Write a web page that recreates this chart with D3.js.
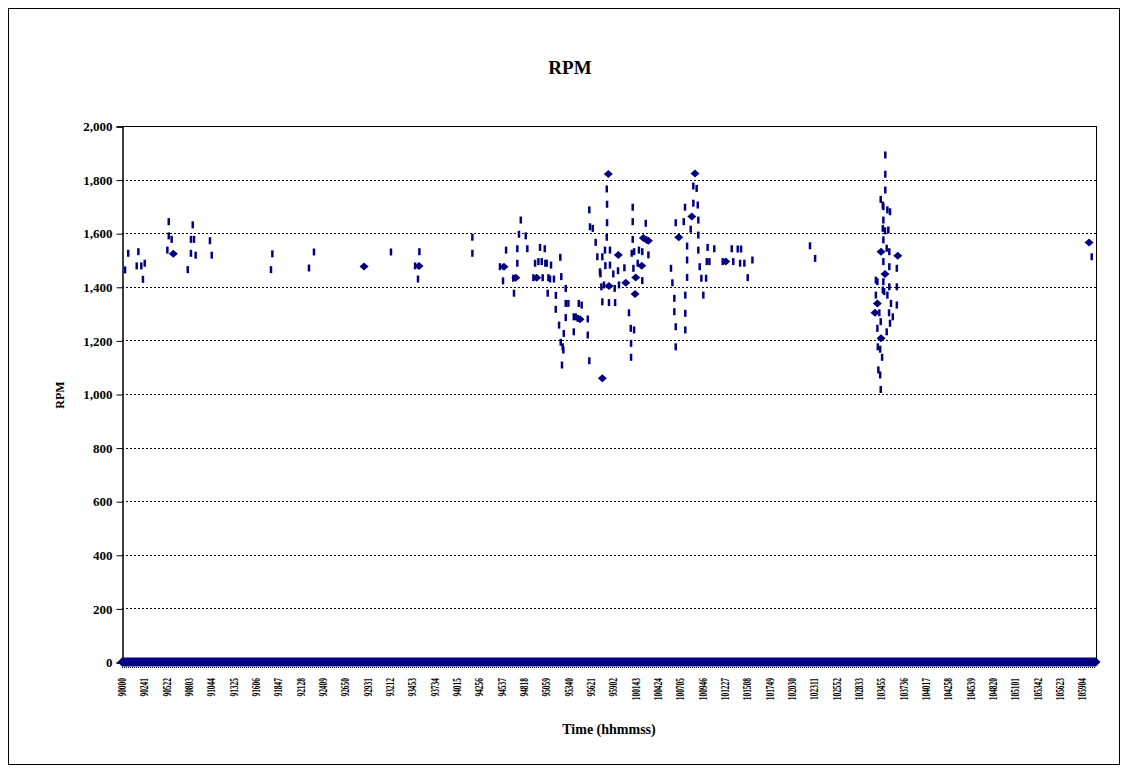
<!DOCTYPE html>
<html><head><meta charset="utf-8">
<script src="https://cdn.jsdelivr.net/npm/d3@7"></script>
<style>
html,body{margin:0;padding:0;background:#fff;}
svg{display:block;}
text{font-family:"Liberation Serif","Times New Roman",serif;font-weight:bold;fill:#000;}
</style></head>
<body>
<svg id="chart" width="1128" height="772"></svg>
<script>
// ---- DATA ----
const chartTitle = "RPM";
const xTitle = "Time (hhmmss)";
const yTitle = "RPM";
const timeLabels = ["90000","90241","90522","90803","91044","91325","91606","91847","92128","92409","92650","92931","93212","93453","93734","94015","94256","94537","94818","95059","95340","95621","95902","100143","100424","100705","100946","101227","101508","101749","102030","102311","102552","102833","103455","103736","104017","104258","104539","104820","105101","105342","105623","105904"];
const labelStep = 161;          // samples between time labels
const sampleCount = 7022;       // samples in the record
const yTicks = [0,200,400,600,800,1000,1200,1400,1600,1800,2000];
// samples reading zero RPM (sample index span)
const zeroSpan = [0, 7022];
// readings drawn with diamond markers [sample index, rpm]
const markerPoints = [
 [370,1523],[1745,1476],[2141,1478],[2754,1475],[2839,1434],[2990,1434],[3302,1279],[3463,1059],
 [3506,1821],[3511,1403],[3578,1519],[3632,1415],[3699,1373],[3704,1435],[3747,1479],[3759,1582],
 [3783,1575],[3795,1572],[4014,1585],[4108,1662],[4131,1823],[4353,1494],[5472,1531],[5593,1516],
 [5501,1448],[5446,1338],[5429,1303],[5472,1208],[6972,1565]
];
// readings drawn as short dashes [sample index, rpm]
const dashPoints = [
 [22,1463],[45,1525],[106,1478],[118,1531],[139,1478],[151,1428],[164,1488],[327,1537],[337,1643],
 [337,1590],[358,1577],[474,1464],[497,1525],[497,1577],[510,1631],[519,1577],[531,1518],[634,1572],
 [647,1518],[1074,1464],[1084,1523],[1348,1470],[1384,1530],[1939,1530],
 [2144,1531],[2113,1478],[2134,1429],[2526,1585],[2526,1525],[2725,1475],[2747,1422],
 [2769,1537],[2821,1432],[2826,1376],[2850,1488],[2850,1542],[2862,1596],[2875,1649],[2911,1590],
 [2922,1542],[2966,1434],[2978,1488],[3002,1494],[3026,1494],[3014,1547],[3048,1542],[3033,1434],
 [3052,1488],[3062,1488],[3074,1434],[3086,1429],[3069,1376],[3093,1481],[3114,1429],[3128,1368],
 [3127,1316],[3151,1257],[3160,1510],[3167,1438],[3163,1193],[3177,1176],[3182,1164],[3185,1226],
 [3172,1108],[3199,1394],[3199,1338],[3218,1338],[3199,1285],[3257,1288],[3257,1232],[3271,1288],
 [3286,1282],[3293,1338],[3314,1332],[3358,1280],[3358,1220],[3369,1124],[3369,1687],[3374,1624],
 [3394,1618],[3415,1566],[3427,1512],[3463,1512],[3446,1456],[3449,1448],[3456,1400],[3475,1407],
 [3463,1344],[3482,1537],[3485,1479],[3495,1765],[3497,1708],[3497,1639],[3495,1585],[3511,1341],
 [3518,1537],[3518,1481],[3542,1448],[3552,1394],[3555,1341],[3576,1460],[3583,1407],[3622,1471],
 [3655,1303],[3668,1245],[3692,1239],[3670,1189],[3670,1137],[3675,1525],[3692,1531],[3682,1697],
 [3682,1643],[3682,1577],[3687,1469],[3718,1488],[3727,1537],[3751,1531],[3751,1423],[3776,1637],
 [3795,1519],[3958,1469],[3968,1415],[3982,1357],[3982,1307],[3992,1251],[3992,1176],[3992,1639],
 [4050,1643],[4059,1697],[4074,1552],[4074,1500],[4074,1435],[4061,1369],[4061,1301],[4061,1239],
 [4100,1615],[4119,1712],[4119,1776],[4143,1767],[4151,1705],[4155,1649],[4155,1593],[4155,1537],
 [4165,1475],[4177,1432],[4211,1432],[4191,1369],[4216,1494],[4235,1494],[4222,1547],[4270,1542],
 [4331,1494],[4396,1542],[4439,1541],[4463,1541],[4407,1494],[4456,1488],[4487,1488],[4545,1500],
 [4511,1434],[4960,1553],[4997,1506],
 [5503,1892],[5503,1820],[5503,1761],[5470,1726],[5485,1705],[5489,1699],[5518,1687],[5537,1680],
 [5489,1649],[5485,1618],[5501,1609],[5525,1612],[5489,1575],[5513,1544],[5532,1531],[5489,1494],
 [5532,1475],[5586,1469],[5435,1425],[5446,1419],[5489,1419],[5532,1400],[5586,1400],[5435,1369],
 [5485,1388],[5495,1382],[5518,1369],[5544,1338],[5586,1332],[5460,1303],[5530,1303],[5557,1288],
 [5470,1270],[5537,1264],[5446,1245],[5513,1232],[5449,1176],[5466,1167],[5480,1137],[5453,1090],
 [5466,1071],[5470,1017],
 [6991,1512]
];

// ---- LAYOUT ----
const svg = d3.select("#chart");
const L = 122, R = 1096, T = 126, B = 662;
const navy = "#000080";

svg.append("rect").attr("x",8.5).attr("y",8.5).attr("width",1111).attr("height",756)
  .attr("fill","#fff").attr("stroke","#000").attr("stroke-width",1);

const x = d3.scaleLinear().domain([0, sampleCount]).range([L, R]);
const y = d3.scaleLinear().domain([0, 2000]).range([B, T]);

// gridlines
svg.append("g").selectAll("line").data(yTicks.filter(d=>d>0 && d<2000)).join("line")
  .attr("x1",L).attr("x2",R).attr("y1",d=>Math.round(y(d))+0.5).attr("y2",d=>Math.round(y(d))+0.5)
  .attr("stroke","#000").attr("stroke-width",1).attr("stroke-dasharray","2,2");

// plot border top/right
svg.append("line").attr("x1",L).attr("x2",R+0.5).attr("y1",T+0.5).attr("y2",T+0.5).attr("stroke","#000");
svg.append("line").attr("x1",R+0.5).attr("x2",R+0.5).attr("y1",T).attr("y2",B).attr("stroke","#000");

// y axis
const yAxis = d3.axisLeft(y).tickValues(yTicks).tickSize(6).tickPadding(4).tickFormat(d3.format(","));
const gy = svg.append("g").attr("transform",`translate(${L+0.5},0.5)`).call(yAxis);
gy.select(".domain").attr("stroke","#000").attr("stroke-width",1.5);
gy.selectAll(".tick line").attr("stroke","#000");
gy.selectAll("text").style("font-size","13px").attr("font-family","Liberation Serif").attr("font-weight","bold");

// x axis line
svg.append("line").attr("x1",L).attr("x2",R).attr("y1",B+0.5).attr("y2",B+0.5).attr("stroke","#000").attr("stroke-width",1);
svg.append("line").attr("x1",L).attr("x2",R).attr("y1",B+5.5).attr("y2",B+5.5).attr("stroke","#000").attr("stroke-width",1).attr("stroke-dasharray","1,1");

// x tick labels
svg.append("g").selectAll("text").data(timeLabels).join("text")
  .attr("transform",(d,i)=>`translate(${x(i*labelStep)+4},678) rotate(-90) scale(0.62,1)`)
  .attr("text-anchor","end")
  .style("font-size","12px")
  .text(d=>d);

// zero readings band
svg.append("line").attr("x1",x(zeroSpan[0])).attr("x2",x(zeroSpan[1]))
  .attr("y1",y(0)).attr("y2",y(0)).attr("stroke",navy).attr("stroke-width",9);

const diamond = "M0,-4.5L4.5,0L0,4.5L-4.5,0Z";
svg.append("g").selectAll("path").data(zeroSpan).join("path")
  .attr("d",diamond).attr("fill",navy)
  .attr("transform",d=>`translate(${x(d)},${y(0)})`);

// dashes
svg.append("g").selectAll("line").data(dashPoints).join("line")
  .attr("x1",d=>x(d[0])).attr("x2",d=>x(d[0]))
  .attr("y1",d=>y(d[1])-3.5).attr("y2",d=>y(d[1])+3.5)
  .attr("stroke",navy).attr("stroke-width",2.5);

// markers
svg.append("g").selectAll("path").data(markerPoints).join("path")
  .attr("d","M0,-4L4.5,0L0,4L-4.5,0Z").attr("fill",navy)
  .attr("transform",d=>`translate(${x(d[0])},${y(d[1])})`);

// titles
svg.append("text").attr("x",570).attr("y",74).attr("text-anchor","middle").style("font-size","19px").text(chartTitle);
svg.append("text").attr("x",609).attr("y",734).attr("text-anchor","middle").style("font-size","14px").text(xTitle);
svg.append("text").attr("transform","translate(64,395) rotate(-90)").attr("text-anchor","middle").style("font-size","12px").text(yTitle);
</script>
</body></html>
